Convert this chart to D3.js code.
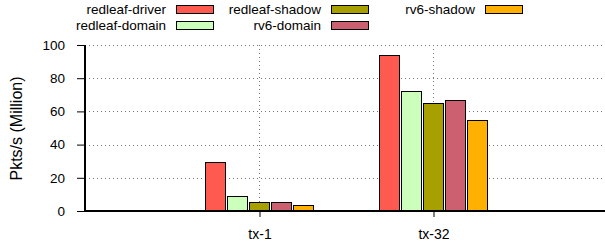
<!DOCTYPE html>
<html><head><meta charset="utf-8">
<script src="https://cdn.jsdelivr.net/npm/d3@7"></script>
<style>body{margin:0;background:#fff;}</style>
</head><body><svg id="c" width="605" height="248" font-family="'Liberation Sans', Arial, Helvetica, sans-serif"></svg>
<script>
const categories = ["tx-1", "tx-32"];
const seriesNames = ["redleaf-driver", "redleaf-domain", "redleaf-shadow", "rv6-domain", "rv6-shadow"];
const redleafDriver = [29.5, 94];
const redleafDomain = [9.3, 72];
const redleafShadow = [5.3, 65];
const rv6Domain = [5.2, 67];
const rv6Shadow = [3.6, 55];
const yTicks = [0, 20, 40, 60, 80, 100];
const colors = ["#ff5a50", "#ccffbb", "#a8a000", "#cc6070", "#ffb000"];
const series = [redleafDriver, redleafDomain, redleafShadow, rv6Domain, rv6Shadow];
const FONT = "'Liberation Sans', Arial, Helvetica, sans-serif";

const svg = d3.select("#c");
const pL = 85, pR = 607, pT = 45, pB = 211;
const x = d3.scaleLinear().domain([-1, 2]).range([pL, pR]);
const y = d3.scaleLinear().domain([0, 100]).range([pB, pT]);
const pitch = 22, bw = 20;

// grid
const g = svg.append("g");
yTicks.filter(t => t > 0).forEach(t => {
  g.append("line").attr("x1", pL).attr("x2", 605).attr("y1", Math.round(y(t)) + 0.5).attr("y2", Math.round(y(t)) + 0.5)
   .attr("stroke", "#777").attr("stroke-width", 1).attr("stroke-dasharray", "1,3");
});
categories.forEach((c, i) => {
  g.append("line").attr("x1", Math.round(x(i)) + 0.5).attr("x2", Math.round(x(i)) + 0.5)
   .attr("y1", pT).attr("y2", pB).attr("stroke", "#777").attr("stroke-dasharray", "1,3");
});

// bars
series.forEach((vals, s) => {
  vals.forEach((v, i) => {
    const cx = x(i) - (5 * pitch - 2) / 2 + s * pitch;
    svg.append("rect").attr("x", Math.round(cx) + 0.5).attr("y", Math.round(y(v)) + 0.5)
      .attr("width", bw).attr("height", y(0) - Math.round(y(v)))
      .attr("fill", colors[s]).attr("stroke", "#000").attr("stroke-width", 1);
  });
});

// axes
const yAxis = d3.axisLeft(y).tickValues(yTicks).tickSize(8).tickPadding(6);
const ya = svg.append("g").attr("transform", `translate(${pL},0)`).call(yAxis);
ya.attr("font-family", FONT);
ya.select(".domain").remove();
ya.selectAll("line").attr("stroke", "#000");
ya.selectAll("text").attr("font-size", "13.5px").attr("fill", "#000").attr("dx", "-6");
svg.append("line").attr("x1", pL).attr("x2", pL).attr("y1", pT).attr("y2", pB + 1)
  .attr("stroke", "#000").attr("stroke-width", 2);
svg.append("line").attr("x1", pL).attr("x2", 605).attr("y1", pB).attr("y2", pB)
  .attr("stroke", "#000").attr("stroke-width", 2);

const xb = d3.scaleOrdinal().domain(categories).range(categories.map((c, i) => Math.round(x(i)) + 0.5));
const xAxis = d3.axisBottom(xb).tickSize(6).tickPadding(12);
const xa = svg.append("g").attr("transform", `translate(0,${pB})`).call(xAxis);
xa.attr("font-family", FONT);
xa.select(".domain").remove();
xa.selectAll("line").attr("stroke", "#000");
xa.selectAll("text").attr("font-size", "14px").attr("fill", "#000");

// y label
svg.append("text").attr("transform", `translate(21.5,128.5) rotate(-90)`).attr("text-anchor", "middle")
  .attr("font-size", "16px").text("Pkts/s (Million)");

// legend
const colTextRight = [166, 321, 475];
const rowY = [9, 25];
seriesNames.forEach((name, i) => {
  const col = Math.floor(i / 2), row = i % 2;
  const tx = colTextRight[col];
  svg.append("text").attr("x", tx).attr("y", rowY[row] + 5).attr("text-anchor", "end")
    .attr("font-size", "13.5px").text(name);
  svg.append("rect").attr("x", tx + 10.5).attr("y", rowY[row] - 3.5).attr("width", 37).attr("height", 8)
    .attr("fill", colors[i]).attr("stroke", "#000").attr("stroke-width", 1);
});
</script></body></html>
